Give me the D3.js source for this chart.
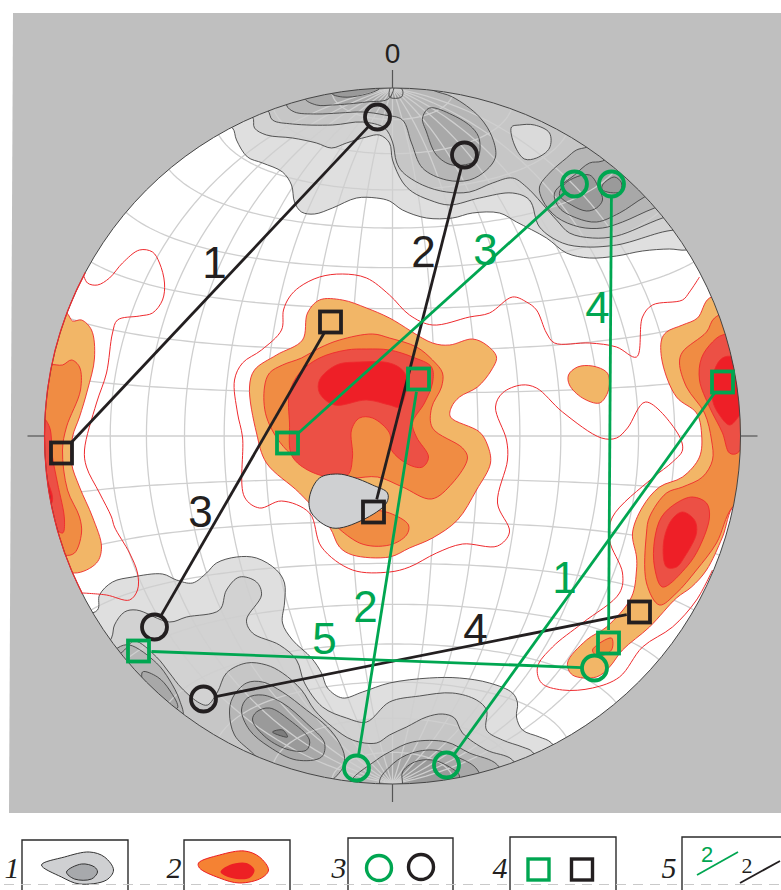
<!DOCTYPE html>
<html>
<head>
<meta charset="utf-8">
<title>Stereonet</title>
<style>
  html, body { margin: 0; padding: 0; background: #fff; }
  svg { display: block; font-family: "Liberation Sans", Arial, sans-serif; }
</style>
</head>
<body>
<div id="chart"></div>
<script src="https://d3js.org/d3.v7.min.js"></script>
<script>
// all outlines are [east, north] read off the net, radius = 348 units, centre = 0,0
// points past the radius are only there to close a shape, the net clip cuts them

// grey density levels, lightest first
const greyTop1 = [[-160,308],[-156,296],[-145,279],[-130,273],[-110,264],[-101,251],[-98,234],[-91,224],[-78,222],[-60,228],[-36,238],[-16,238],[-3,235],[10,226],[34,218],[60,218],[80,223],[107,223],[124,214],[154,198],[174,183],[197,178],[224,180],[250,185],[277,187],[294,186],[327,196],[357,336],[0,396],[-213,356],[-178,316]];
const greyBottom1 = [[-295,-174],[-293,-159],[-280,-146],[-260,-141],[-230,-138],[-216,-144],[-200,-147],[-186,-137],[-176,-127],[-156,-121],[-136,-122],[-116,-134],[-108,-147],[-108,-167],[-110,-187],[-100,-204],[-81,-222],[-71,-237],[-65,-252],[-50,-262],[-30,-256],[-3,-247],[37,-242],[67,-242],[97,-247],[120,-257],[125,-267],[124,-281],[130,-294],[147,-301],[159,-307],[175,-340],[90,-420],[0,-440],[-190,-420],[-340,-290],[-320,-185]];
const greyTop2 = [[-140,319],[-138,308],[-126,301],[-100,298],[-76,293],[-61,288],[-46,293],[-26,299],[-13,301],[-3,293],[0,276],[10,254],[20,244],[37,236],[57,231],[87,238],[120,243],[137,236],[147,209],[170,193],[194,189],[224,191],[237,194],[270,204],[287,207],[320,215],[340,340],[0,390],[-200,340],[-160,325]];
const greyBottom2 = [[-281,-202],[-278,-189],[-268,-176],[-256,-174],[-223,-186],[-206,-181],[-173,-174],[-166,-154],[-153,-141],[-136,-146],[-131,-159],[-146,-184],[-140,-197],[-113,-209],[-96,-224],[-88,-247],[-70,-271],[-46,-282],[-26,-286],[-3,-266],[27,-260],[60,-257],[84,-264],[94,-274],[94,-294],[110,-304],[130,-311],[140,-316],[150,-345],[0,-420],[-170,-400],[-320,-260]];
const greyTop3 = [[-125,326],[-120,316],[-100,312],[-60,311],[-30,314],[-8,308],[0,294],[4,274],[10,264],[30,251],[54,244],[77,244],[100,253],[120,258],[134,249],[164,216],[177,203],[200,198],[224,200],[270,218],[310,230],[320,340],[0,385],[-150,340]];
const greyBottom3 = [[-268,-214],[-258,-205],[-236,-221],[-223,-237],[-211,-252],[-193,-267],[-185,-269],[-175,-256],[-166,-237],[-146,-227],[-126,-229],[-110,-237],[-91,-254],[-78,-274],[-60,-291],[-40,-304],[-16,-307],[-3,-299],[14,-291],[34,-281],[50,-278],[62,-282],[70,-297],[94,-314],[120,-324],[130,-350],[0,-410],[-160,-390],[-300,-250]];
const greyIsland = [[119,309],[127,311],[142,311],[157,303],[157,288],[144,278],[132,277],[122,291]];
const greyTop4 = [[-106,331],[-98,324],[-76,322],[-53,323],[-30,324],[-8,321],[10,316],[19,293],[30,268],[54,256],[77,256],[94,266],[103,279],[100,298],[87,319],[60,339],[40,346],[0,370],[-100,350]];
const greyRight4 = [[195,289],[184,286],[174,278],[157,263],[147,249],[150,236],[164,219],[187,209],[210,208],[230,214],[262,228],[300,240],[290,310],[220,300]];
const greyLeft4 = [[-275,-212],[-263,-209],[-236,-227],[-223,-244],[-213,-264],[-210,-282],[-240,-300],[-300,-240]];
const greyLobe4 = [[-141,-316],[-158,-299],[-163,-277],[-160,-262],[-146,-247],[-130,-246],[-110,-256],[-86,-274],[-65,-291],[-53,-307],[-48,-321],[-51,-334],[-90,-360]];
const greyBottom4 = [[-43,-349],[-16,-324],[-3,-316],[20,-306],[54,-306],[77,-317],[105,-329],[115,-360],[0,-370]];
const greyTop5 = [[-88,338],[-76,331],[-60,331],[-26,334],[-3,338],[0,360],[-80,355]];
const greyLobeTop5 = [[30,318],[37,328],[60,321],[80,308],[87,296],[84,276],[60,271],[44,281],[34,304]];
const greyRight5 = [[210,275],[197,273],[182,261],[162,243],[167,228],[184,218],[204,214],[227,223],[252,239],[285,255],[250,300]];
const greyLeft5 = [[-250,-236],[-235,-241],[-223,-254],[-215,-272],[-240,-270]];
const greyLobe5 = [[-151,-274],[-145,-262],[-130,-259],[-110,-267],[-86,-287],[-68,-307],[-71,-321],[-96,-324],[-123,-311],[-143,-294]];
const greyBottom5 = [[-13,-346],[-3,-331],[14,-319],[40,-314],[67,-322],[85,-334],[90,-360],[0,-365]];
const greyTop6 = [[-61,343],[-50,339],[-30,341],[-13,348],[-40,360]];
const greyPole = [[-3,339],[9,339],[10,346],[0,352]];
const greyRight6 = [[173,253],[197,261],[207,246],[210,236],[204,228],[194,225],[179,231],[167,241]];
const greyRight6b = [[210,251],[222,259],[229,253],[227,244],[210,246]];
const greyLobe6 = [[-140,-284],[-136,-276],[-123,-272],[-103,-284],[-83,-304],[-86,-314],[-103,-314],[-126,-302]];
const greyBottom6 = [[10,-347],[10,-336],[22,-326],[40,-324],[57,-331],[67,-340],[60,-360],[10,-360]];
const greyLobe7 = [[-120,-296],[-110,-294],[-105,-301],[-111,-300]];

// red density levels, lowest first
const redLineLeft = [[-310,164],[-305,153],[-295,151],[-283,158],[-270,173],[-253,186],[-240,184],[-233,173],[-228,153],[-230,136],[-240,123],[-253,120],[-275,116],[-280,103],[-286,63],[-296,33],[-308,-14],[-306,-31],[-293,-57],[-281,-81],[-278,-91],[-263,-117],[-255,-137],[-255,-154],[-263,-164],[-286,-159],[-310,-157]];
const redLineMain = [[307,159],[297,144],[290,136],[260,131],[250,119],[244,79],[224,89],[197,93],[162,93],[154,103],[144,126],[134,134],[120,139],[97,123],[77,119],[40,111],[17,121],[-3,141],[-26,158],[-50,162],[-73,159],[-93,149],[-103,139],[-109,126],[-111,106],[-131,86],[-150,73],[-158,56],[-155,23],[-150,-1],[-148,-61],[-133,-72],[-111,-65],[-83,-77],[-71,-111],[-40,-134],[-3,-136],[17,-131],[44,-117],[70,-108],[105,-110],[117,-96],[105,-67],[115,-24],[114,-4],[103,29],[110,43],[129,51],[144,48],[170,24],[209,-2],[224,-2],[235,8],[253,34],[285,3],[290,-14],[280,-26],[260,-42],[220,-81],[217,-104],[230,-137],[227,-157],[190,-187],[160,-211],[145,-231],[149,-247],[170,-254],[200,-252],[227,-241],[250,-211],[280,-191],[304,-164],[320,-134]];
const tanCentre = [[-73,136],[-50,136],[-26,128],[-3,118],[40,93],[57,91],[80,97],[94,91],[104,79],[99,66],[85,49],[67,39],[59,29],[58,19],[87,4],[95,-9],[98,-27],[84,-54],[65,-84],[40,-102],[17,-112],[-3,-121],[-40,-119],[-53,-111],[-63,-91],[-93,-57],[-126,-27],[-136,3],[-143,49],[-138,66],[-116,81],[-90,96],[-85,123]];
const tanPatch = [[176,61],[185,69],[200,70],[214,64],[217,56],[215,43],[207,33],[190,38],[177,51]];
const tanLeft = [[-326,123],[-320,115],[-311,116],[-301,106],[-298,78],[-305,46],[-313,19],[-320,-1],[-321,-27],[-313,-51],[-300,-81],[-291,-111],[-296,-127],[-318,-137],[-343,-124],[-360,-60],[-370,50],[-340,120]];
const tanRight = [[317,138],[305,118],[290,111],[274,104],[269,96],[270,73],[284,39],[304,23],[309,3],[307,-21],[290,-41],[267,-51],[250,-71],[240,-97],[244,-121],[244,-134],[239,-161],[214,-191],[194,-204],[175,-227],[180,-239],[204,-241],[217,-231],[230,-214],[257,-191],[284,-162],[299,-151],[314,-134],[330,-101],[342,-69],[370,-60],[380,60],[350,140]];
const orangeCentre = [[-53,96],[-20,102],[-3,98],[24,89],[40,76],[50,63],[49,49],[39,28],[40,8],[70,-12],[75,-22],[60,-47],[39,-63],[10,-51],[-15,-41],[-40,-42],[-68,-39],[-106,-14],[-126,19],[-128,49],[-123,63],[-110,71],[-91,78],[-73,88]];
const orangeLow = [[-63,-79],[-33,-107],[-3,-109],[14,-99],[16,-89],[-3,-77],[-23,-74]];
const orangeLeft = [[-343,71],[-330,71],[-321,76],[-313,69],[-312,46],[-326,9],[-330,-14],[-325,-54],[-313,-81],[-311,-97],[-318,-117],[-328,-119],[-350,-100],[-370,0],[-360,60]];
const orangeRight = [[322,118],[314,104],[290,84],[287,73],[294,49],[312,23],[319,-4],[320,-24],[310,-41],[290,-51],[274,-57],[257,-81],[254,-97],[254,-147],[267,-169],[284,-157],[304,-134],[324,-107],[340,-71],[370,-50],[380,60],[345,125]];
const orangeSmall = [[200,-214],[219,-202],[219,-214],[205,-220]];
const coralCentre = [[-103,43],[-103,13],[-100,-21],[-73,-39],[-45,-39],[-40,-21],[-41,6],[-33,18],[-20,18],[-3,3],[-1,-14],[17,-29],[30,-31],[36,-21],[24,-1],[20,13],[32,33],[40,53],[39,69],[20,79],[-3,86],[-26,87],[-46,86],[-73,78],[-93,63]];
const coralLeft = [[-350,18],[-343,9],[-340,-21],[-335,-47],[-328,-84],[-330,-97],[-355,-70],[-365,0]];
const coralRight = [[330,101],[320,94],[309,78],[307,56],[317,29],[330,3],[337,-17],[345,-17],[365,40],[350,100]];
const coralLower = [[300,-61],[314,-67],[317,-81],[307,-111],[294,-131],[270,-151],[262,-131],[262,-104],[269,-81],[284,-67]];
const brightCentre = [[-73,56],[-73,43],[-58,31],[-26,36],[-3,31],[7,29],[14,46],[15,56],[10,66],[-3,73],[-33,74],[-56,71]];
const brightLeft = [[-348,-27],[-345,-44],[-340,-61],[-341,-67],[-355,-50]];
const brightRight = [[340,79],[330,78],[322,66],[320,36],[327,21],[337,11],[345,18],[360,50]];
const brightLower = [[290,-76],[302,-84],[304,-97],[292,-121],[284,-131],[274,-131],[271,-107],[279,-84]];
const greyBlob = [[-83,-61],[-73,-42],[-55,-38],[-40,-41],[-20,-49],[-5,-57],[-6,-67],[-30,-84],[-60,-92],[-81,-77]];

// numbered pairs
const blackNames = ["1", "2", "3", "4"];
const blackCircles = [[-15,319],[72,281],[-238,-191],[-189,-263]];
const blackSquares = [[-331,-17],[-19,-76],[-62,114],[247,-176]];
const blackNameAt = [[-178,158],[31,169],[-192,-91],[83,-209]];
const greenNames = ["1", "2", "3", "4", "5"];
const greenCircles = [[54,-329],[-36,-332],[182,252],[219,252],[202,-232]];
const greenSquares = [[330,54],[26,57],[-105,-7],[216,-207],[-254,-215]];
const greenNameAt = [[172,-157],[-27,-186],[93,171],[205,113],[-68,-218]];

// net lines, degrees
const meridians = [-70,-60,-50,-40,-30,-20,-10,0,10,20,30,40,50,60,70];
const parallels = [-80,-70,-60,-50,-40,-30,-20,-10,0,10,20,30,40,50,60,70,80];

// legend swatches
const legendGreyOuter = [[-351,-429],[-328,-421],[-303,-416],[-288,-421],[-279,-434],[-286,-444],[-313,-448],[-331,-441]];
const legendGreyInner = [[-326,-436],[-311,-428],[-298,-431],[-295,-436],[-301,-443],[-318,-443]];
const legendRedOuter = [[-194,-427],[-173,-419],[-148,-415],[-133,-421],[-124,-434],[-131,-442],[-153,-447],[-173,-442],[-193,-432]];
const legendRedInner = [[-172,-436],[-163,-429],[-146,-427],[-138,-434],[-143,-442],[-161,-442]];

const width = 781, height = 890;
const black = "#231f20", green = "#00a651";

const svg = d3.select("#chart").append("svg").attr("width", width).attr("height", height);

const x = d3.scaleLinear().domain([-348, 348]).range([44.5, 740.5]);
const y = d3.scaleLinear().domain([-348, 348]).range([784, 88]);
const R = x(348) - x(0);

const smooth = d3.line().x(d => x(d[0])).y(d => y(d[1])).curve(d3.curveCatmullRomClosed.alpha(0.5));
const open = d3.line().x(d => x(d[0])).y(d => y(d[1])).curve(d3.curveCatmullRom.alpha(0.5));

// grey panel, not quite square in the scan
svg.append("path")
  .attr("d", d3.line()([[13, 13], [781, 13], [781, 813], [9, 813]]) + "Z")
  .attr("fill", "#bfbfbf");

svg.append("defs").append("clipPath").attr("id", "net")
  .append("circle").attr("cx", x(0)).attr("cy", y(0)).attr("r", R);

svg.append("circle").attr("cx", x(0)).attr("cy", y(0)).attr("r", R).attr("fill", "#fff");

const net = svg.append("g").attr("clip-path", "url(#net)");

const greys = [
  ["#dfdfdf", [greyTop1, greyBottom1]],
  ["#d2d2d2", [greyTop2, greyBottom2]],
  ["#c6c6c6", [greyTop3, greyBottom3]],
  ["#dadada", [greyIsland]],
  ["#b6b6b6", [greyTop4, greyRight4, greyLeft4, greyLobe4, greyBottom4]],
  ["#a8a8a8", [greyTop5, greyLobeTop5, greyRight5, greyLeft5, greyLobe5, greyBottom5]],
  ["#9a9a9a", [greyTop6, greyPole, greyRight6, greyRight6b, greyLobe6, greyBottom6]],
  ["#7d7d7d", [greyLobe7]]
];
greys.forEach(level => {
  net.append("g").selectAll("path").data(level[1]).join("path")
    .attr("d", smooth).attr("fill", level[0]);
});

// Schmidt net, equatorial, 10 degree lines
const projection = d3.geoAzimuthalEqualArea()
  .rotate([0, 0]).clipAngle(90)
  .scale(R / Math.SQRT2).translate([x(0), y(0)]);
const geo = d3.geoPath(projection);
const along = d3.range(-90, 90.5, 2);
const netLines = meridians.map(m => along.map(t => [m, t]))
  .concat(parallels.map(p => along.map(t => [t, p])));
net.append("g").selectAll("path").data(netLines).join("path")
  .attr("d", d => geo({ type: "LineString", coordinates: d }))
  .attr("fill", "none").attr("stroke", "#cfcfcf").attr("stroke-width", 1.3);

// grey contour lines go over the net
greys.forEach(level => {
  net.append("g").selectAll("path").data(level[1]).join("path")
    .attr("d", smooth).attr("fill", "none")
    .attr("stroke", "#444").attr("stroke-width", 0.9);
});

net.append("g").selectAll("path").data([redLineLeft, redLineMain]).join("path")
  .attr("d", open).attr("fill", "none").attr("stroke", "#ee2a2e").attr("stroke-width", 1);

const reds = [
  ["#f2b667", [tanCentre, tanPatch, tanLeft, tanRight]],
  ["#f08c43", [orangeCentre, orangeLow, orangeLeft, orangeRight, orangeSmall]],
  ["#ec5045", [coralCentre, coralLeft, coralRight, coralLower]],
  ["#ee1f27", [brightCentre, brightLeft, brightRight, brightLower]]
];
reds.forEach(level => {
  net.append("g").selectAll("path").data(level[1]).join("path")
    .attr("d", smooth).attr("fill", level[0])
    .attr("stroke", "#ee2a2e").attr("stroke-width", 0.9);
});

net.append("path").datum(greyBlob)
  .attr("d", smooth).attr("fill", "#cfd0d2").attr("stroke", "#333").attr("stroke-width", 1);

// rim and the four ticks, the rim runs red along the west side
svg.append("circle").attr("cx", x(0)).attr("cy", y(0)).attr("r", R)
  .attr("fill", "none").attr("stroke", "#444").attr("stroke-width", 1);
svg.append("path")
  .attr("transform", `translate(${x(0)},${y(0)})`)
  .attr("d", d3.arc().innerRadius(R).outerRadius(R)({ startAngle: 243 * Math.PI / 180, endAngle: 298 * Math.PI / 180 }))
  .attr("fill", "none").attr("stroke", "#ee2a2e").attr("stroke-width", 1.2);
const ticks = [[[0, 348], [0, 366]], [[0, -348], [0, -366]], [[-348, 0], [-365, 0]], [[348, 0], [365, 0]]];
svg.append("g").selectAll("path").data(ticks).join("path")
  .attr("d", d3.line().x(d => x(d[0])).y(d => y(d[1])))
  .attr("stroke", "#555").attr("stroke-width", 1.2);

svg.append("text").attr("x", x(0)).attr("y", 63).attr("text-anchor", "middle")
  .attr("font-size", 28).attr("fill", black).text("0");

// link a circle to its square, stopping at the edge of each symbol
function drawPairs(names, circles, squares, nameAt, colour) {
  const g = svg.append("g");
  names.forEach((name, i) => {
    const a = [x(circles[i][0]), y(circles[i][1])];
    const b = [x(squares[i][0]), y(squares[i][1])];
    const len = Math.hypot(b[0] - a[0], b[1] - a[1]);
    const ux = (b[0] - a[0]) / len, uy = (b[1] - a[1]) / len;
    g.append("line")
      .attr("x1", a[0] + ux * 12.5).attr("y1", a[1] + uy * 12.5)
      .attr("x2", b[0] - ux * 13).attr("y2", b[1] - uy * 13)
      .attr("stroke", colour).attr("stroke-width", 2.8);
    g.append("circle").attr("cx", a[0]).attr("cy", a[1]).attr("r", 12.5)
      .attr("fill", "none").attr("stroke", colour).attr("stroke-width", 3.8);
    g.append("rect").attr("x", b[0] - 10.5).attr("y", b[1] - 10.5)
      .attr("width", 21).attr("height", 21)
      .attr("fill", "none").attr("stroke", colour).attr("stroke-width", 3.8);
    g.append("text").attr("x", x(nameAt[i][0])).attr("y", y(nameAt[i][1]))
      .attr("text-anchor", "middle").attr("font-size", 44).attr("fill", colour).text(name);
  });
}
drawPairs(blackNames, blackCircles, blackSquares, blackNameAt, black);
drawPairs(greenNames, greenCircles, greenSquares, greenNameAt, green);

// legend row
const legendBoxes = [[22, 128, 840], [184, 290, 840], [348, 453, 838], [510, 616, 837], [682, 790, 837]];
const legendNames = ["1", "2", "3", "4", "5"];
const legendNameX = [12, 174, 339, 500, 669];
const legend = svg.append("g");
legendBoxes.forEach((b, i) => {
  legend.append("path")
    .attr("d", `M${b[0]},${height + 2}V${b[2]}H${b[1]}V${height + 2}`)
    .attr("fill", "none").attr("stroke", "#2b2b2b").attr("stroke-width", 1.4);
  legend.append("text").attr("x", legendNameX[i]).attr("y", 878).attr("text-anchor", "middle")
    .attr("font-family", "Liberation Serif").attr("font-style", "italic")
    .attr("font-size", 30).attr("fill", black).text(legendNames[i]);
});
legend.append("path").datum(legendGreyOuter).attr("d", smooth).attr("fill", "#cfd0d2").attr("stroke", "#333");
legend.append("path").datum(legendGreyInner).attr("d", smooth).attr("fill", "#a7a9ac").attr("stroke", "#333");
legend.append("path").datum(legendRedOuter).attr("d", smooth).attr("fill", "#f58233").attr("stroke", "#ed1c24");
legend.append("path").datum(legendRedInner).attr("d", smooth).attr("fill", "#ed2024");
legend.append("circle").attr("cx", 379).attr("cy", 868).attr("r", 12.5).attr("fill", "none").attr("stroke", green).attr("stroke-width", 3.4);
legend.append("circle").attr("cx", 421).attr("cy", 867).attr("r", 12.5).attr("fill", "none").attr("stroke", black).attr("stroke-width", 3.4);
legend.append("rect").attr("x", 528).attr("y", 859).attr("width", 21).attr("height", 21).attr("fill", "none").attr("stroke", green).attr("stroke-width", 3.4);
legend.append("rect").attr("x", 571.5).attr("y", 859).attr("width", 21).attr("height", 21).attr("fill", "none").attr("stroke", black).attr("stroke-width", 3.4);
legend.append("line").attr("x1", 697).attr("y1", 875).attr("x2", 738).attr("y2", 852).attr("stroke", green).attr("stroke-width", 1.8);
legend.append("line").attr("x1", 740).attr("y1", 883).attr("x2", 780).attr("y2", 861).attr("stroke", black).attr("stroke-width", 1.8);
legend.append("text").attr("x", 707).attr("y", 862).attr("text-anchor", "middle").attr("font-size", 22).attr("fill", green).text("2");
legend.append("text").attr("x", 747).attr("y", 873).attr("text-anchor", "middle").attr("font-family", "Liberation Serif").attr("font-size", 22).attr("fill", black).text("2");

// the dashed fold line across the scan
svg.append("line").attr("x1", 4).attr("y1", 884.5).attr("x2", width).attr("y2", 884.5)
  .attr("stroke", "#c9c9c9").attr("stroke-width", 1).attr("stroke-dasharray", "10 7");
</script>
</body>
</html>
